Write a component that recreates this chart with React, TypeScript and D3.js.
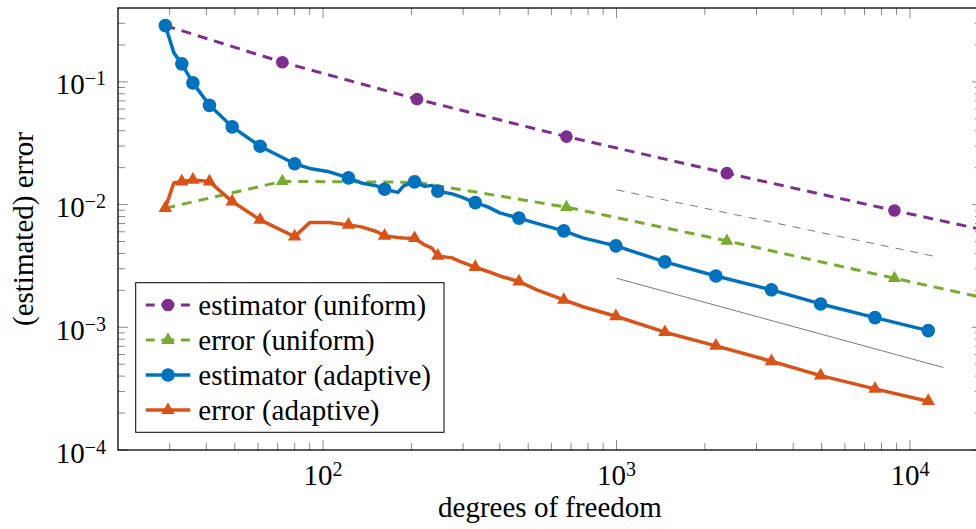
import React from "react";
import * as d3 from "d3";

// ---------- data ----------
const uniformDofs = [29, 72.6, 209, 675, 2377, 8853, 33000];
const uniformEstimator = [0.2876, 0.1447, 0.0723, 0.0358, 0.01803, 0.00894, 0.00452];
const uniformError = [0.00935, 0.01546, 0.0152, 0.00953, 0.00506, 0.00251, 0.00126];

const adaptiveDofs = [29, 31, 33, 36, 41, 49, 61, 80, 90, 105, 122, 135, 152, 162, 180, 188, 205, 222, 235, 246, 275, 295, 330, 364, 400, 465, 535, 661, 768, 995, 1461, 2181, 3372, 4961, 7599, 11545];
const adaptiveEstimator = [0.2876, 0.1723, 0.1402, 0.0981, 0.0644, 0.043, 0.0299, 0.0215, 0.0197, 0.0185, 0.0165, 0.015, 0.0142, 0.01335, 0.01257, 0.0142, 0.0153, 0.01407, 0.01434, 0.01286, 0.01223, 0.01156, 0.01038, 0.00958, 0.00856, 0.00775, 0.00703, 0.00611, 0.00535, 0.00461, 0.00341, 0.00262, 0.00202, 0.00155, 0.0012, 0.00094];
const adaptiveError = [0.00935, 0.01502, 0.0154, 0.01589, 0.0154, 0.01058, 0.0075, 0.00548, 0.00713, 0.00713, 0.00683, 0.00658, 0.00603, 0.00556, 0.0054, 0.00535, 0.00532, 0.00469, 0.00441, 0.00382, 0.00368, 0.00341, 0.00309, 0.00285, 0.00262, 0.00236, 0.00202, 0.00167, 0.00147, 0.00123, 0.000912, 0.000705, 0.000529, 0.000404, 0.000315, 0.00025];
const adaptiveMarked = [1, 0, 1, 1, 1, 1, 1, 1, 0, 0, 1, 0, 0, 1, 0, 0, 1, 0, 0, 1, 0, 0, 1, 0, 0, 1, 0, 1, 0, 1, 1, 1, 1, 1, 1, 1];

const refDashedDofs = [1000, 12500];
const refDashedValues = [0.0132, 0.00373];
const refSolidDofs = [1000, 13000];
const refSolidValues = [0.00251, 0.00047];

const xTickExps = [2, 3, 4];
const yTickExps = [-4, -3, -2, -1];
const legendLabels = ["estimator (uniform)", "error (uniform)", "estimator (adaptive)", "error (adaptive)"];
const seriesColors = ["#7E2F8E", "#77AC30", "#0072BD", "#D95319"];

// ---------- layout ----------
const W = 976;
const H = 529;
const L = 118, R = 982, T = 8, B = 450;
const FONT = "'Liberation Serif', 'Times New Roman', serif";

type Pt = [number, number];

function tri(cx: number, cy: number, r: number) {
  const a = r * Math.cos(Math.PI / 6);
  return `M${cx},${cy - r}L${cx + a},${cy + r / 2}L${cx - a},${cy + r / 2}Z`;
}

export default function App() {
  const x = d3.scaleLog().domain([20, 17600]).range([L, R]);
  const y = d3.scaleLog().domain([1e-4, 0.4]).range([B, T]);
  const line = d3.line<Pt>().x((d) => x(d[0])).y((d) => y(d[1]));

  const zip = (a: number[], b: number[]): Pt[] => a.map((v, i) => [v, b[i]] as Pt);
  const uEst = zip(uniformDofs, uniformEstimator);
  const uErr = zip(uniformDofs, uniformError);
  const aEst = zip(adaptiveDofs, adaptiveEstimator);
  const aErr = zip(adaptiveDofs, adaptiveError);

  // minor ticks
  const xMinor: number[] = [];
  for (let e = 1; e <= 4; e++) for (let m = 2; m <= 9; m++) {
    const v = m * Math.pow(10, e);
    if (x(v) > L + 0.5 && x(v) < R - 0.5) xMinor.push(v);
  }
  const yMinor: number[] = [];
  for (let e = -4; e <= -1; e++) for (let m = 2; m <= 9; m++) {
    const v = m * Math.pow(10, e);
    if (y(v) < B - 0.5 && y(v) > T + 0.5) yMinor.push(v);
  }
  const tickColor = "#8a8a8a";
  const majLen = 10, minLen = 7;

  const dash = "10 7";

  return (
    <svg width={W} height={H} style={{ position: "absolute", left: 0, top: 0, background: "#fff" }} fontFamily={FONT}>
      <defs>
        <clipPath id="plotclip">
          <rect x={L} y={T} width={R - L} height={B - T} />
        </clipPath>
      </defs>
      <rect x={0} y={0} width={W} height={H} fill="#fff" />

      {/* ticks */}
      <g stroke={tickColor} strokeWidth={1}>
        {xMinor.map((v, i) => (
          <g key={"xm" + i}>
            <line x1={x(v)} x2={x(v)} y1={B} y2={B - minLen} />
            <line x1={x(v)} x2={x(v)} y1={T} y2={T + minLen} />
          </g>
        ))}
        {xTickExps.map((e) => (
          <g key={"xM" + e}>
            <line x1={x(Math.pow(10, e))} x2={x(Math.pow(10, e))} y1={B} y2={B - majLen} />
            <line x1={x(Math.pow(10, e))} x2={x(Math.pow(10, e))} y1={T} y2={T + majLen} />
          </g>
        ))}
        {yMinor.map((v, i) => (
          <g key={"ym" + i}>
            <line x1={L} x2={L + minLen} y1={y(v)} y2={y(v)} />
            <line x1={R} x2={R - minLen} y1={y(v)} y2={y(v)} />
          </g>
        ))}
        {yTickExps.map((e) => (
          <g key={"yM" + e}>
            <line x1={L} x2={L + majLen} y1={y(Math.pow(10, e))} y2={y(Math.pow(10, e))} />
            <line x1={R} x2={R - majLen} y1={y(Math.pow(10, e))} y2={y(Math.pow(10, e))} />
          </g>
        ))}
      </g>

      {/* series */}
      <g clipPath="url(#plotclip)" fill="none" strokeLinejoin="round">
        {/* reference slopes */}
        <path d={line(zip(refDashedDofs, refDashedValues)) || ""} stroke="#7a7a7a" strokeWidth={1} strokeDasharray="8 7" />
        <path d={line(zip(refSolidDofs, refSolidValues)) || ""} stroke="#7a7a7a" strokeWidth={1} />

        <path d={line(uEst) || ""} stroke={seriesColors[0]} strokeWidth={3} strokeDasharray={dash} />
        {uEst.map((d, i) => (
          <circle key={"ue" + i} cx={x(d[0])} cy={y(d[1])} r={6.3} fill={seriesColors[0]} stroke="none" />
        ))}
        <path d={line(uErr) || ""} stroke={seriesColors[1]} strokeWidth={3} strokeDasharray={dash} />
        {uErr.map((d, i) => (
          <path key={"ur" + i} d={tri(x(d[0]), y(d[1]), 7.5)} fill={seriesColors[1]} stroke="none" />
        ))}
        <path d={line(aEst) || ""} stroke={seriesColors[2]} strokeWidth={3.5} />
        {aEst.map((d, i) =>
          adaptiveMarked[i] ? (
            <circle key={"ae" + i} cx={x(d[0])} cy={y(d[1])} r={6.8} fill={seriesColors[2]} stroke="none" />
          ) : null
        )}
        <path d={line(aErr) || ""} stroke={seriesColors[3]} strokeWidth={3.5} />
        {aErr.map((d, i) =>
          adaptiveMarked[i] ? (
            <path key={"ar" + i} d={tri(x(d[0]), y(d[1]), 7.8)} fill={seriesColors[3]} stroke="none" />
          ) : null
        )}
      </g>

      {/* axis frame */}
      <rect x={L} y={T} width={R - L} height={B - T} fill="none" stroke="#000" strokeWidth={1.3} />

      {/* tick labels */}
      {xTickExps.map((e) => (
        <text key={"xl" + e} x={x(Math.pow(10, e))} y={485} textAnchor="middle" fontSize={29} fill="#000">
          <tspan>10</tspan>
          <tspan dy={-9} fontSize={20}>{String(e)}</tspan>
        </text>
      ))}
      {yTickExps.map((e) => (
        <text key={"yl" + e} x={106} y={y(Math.pow(10, e)) + 12.5} textAnchor="end" fontSize={29} fill="#000">
          <tspan>10</tspan>
          <tspan dy={-9} fontSize={20}>{"\u2212" + Math.abs(e)}</tspan>
        </text>
      ))}

      {/* axis labels */}
      <text x={(L + R) / 2} y={517} textAnchor="middle" fontSize={29} fill="#000">degrees of freedom</text>
      <text transform={`translate(33, ${(T + B) / 2}) rotate(-90)`} textAnchor="middle" fontSize={29} fill="#000">(estimated) error</text>

      {/* legend */}
      <g>
        <rect x={135.7} y={282.7} width={308.3} height={149.6} fill="#fff" stroke="#000" strokeWidth={1} />
        {legendLabels.map((lab, i) => {
          const cy = 305 + i * 35;
          const c = seriesColors[i];
          const dashed = i < 2;
          return (
            <g key={"lg" + i}>
              <line x1={145.7} x2={190.3} y1={cy} y2={cy} stroke={c} strokeWidth={dashed ? 3 : 3.5} strokeDasharray={dashed ? "9 6.6 13 6.6 9" : undefined} />
              {i % 2 === 0 ? (
                <circle cx={168} cy={cy} r={i === 0 ? 6.3 : 6.8} fill={c} />
              ) : (
                <path d={tri(168, cy, 7.8)} fill={c} />
              )}
              <text x={198.3} y={cy + 9.5} fontSize={29} fill="#000">{lab}</text>
            </g>
          );
        })}
      </g>
    </svg>
  );
}
